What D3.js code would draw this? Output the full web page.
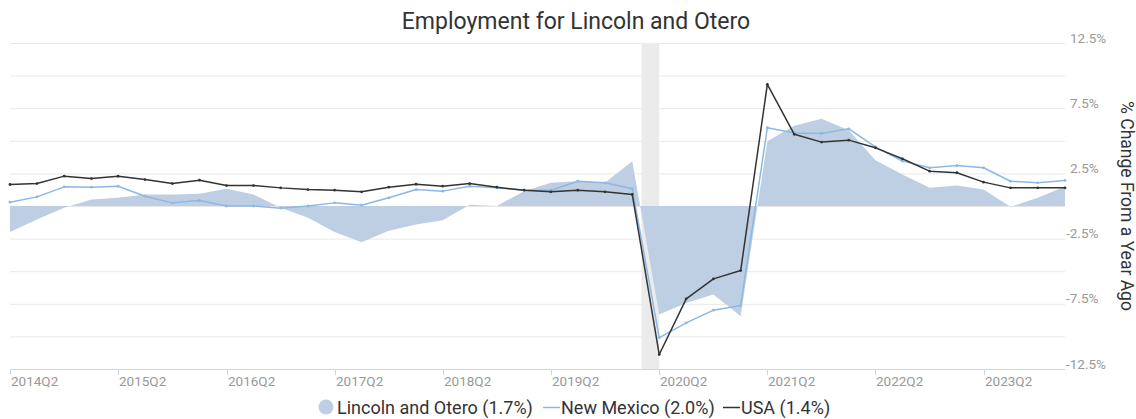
<!DOCTYPE html>
<html>
<head>
<meta charset="utf-8">
<script src="https://cdn.jsdelivr.net/npm/d3@7"></script>
<style>
  body { margin: 0; background: #fff; }
  svg { display: block; font-family: Roboto, "Noto Sans", sans-serif; }
</style>
</head>
<body>
<svg id="chart"></svg>
<script>
var WIDTH = 1136;
var HEIGHT = 419;

var quarters = [
    "2014Q2", "2014Q3", "2014Q4", "2015Q1", "2015Q2", "2015Q3", "2015Q4", "2016Q1",
    "2016Q2", "2016Q3", "2016Q4", "2017Q1", "2017Q2", "2017Q3", "2017Q4", "2018Q1",
    "2018Q2", "2018Q3", "2018Q4", "2019Q1", "2019Q2", "2019Q3", "2019Q4", "2020Q1",
    "2020Q2", "2020Q3", "2020Q4", "2021Q1", "2021Q2", "2021Q3", "2021Q4", "2022Q1",
    "2022Q2", "2022Q3", "2022Q4", "2023Q1", "2023Q2", "2023Q3", "2023Q4", "2024Q1"
];

var lincolnOtero = [
    -2.0, -1.04, -0.14, 0.5, 0.63, 0.88, 0.88, 0.93,
    1.32, 0.88, -0.14, -0.9, -2.0, -2.78, -1.9, -1.42,
    -1.09, 0.1, 0.0, 1.14, 1.78, 1.9, 1.78, 3.44,
    -8.32, -7.43, -6.79, -8.45, 4.97, 6.15, 6.69, 5.81,
    3.51, 2.42, 1.39, 1.57, 1.26, -0.06, 0.63, 1.5
];

var newMexico = [
    0.29, 0.7, 1.47, 1.44, 1.52, 0.75, 0.24, 0.42,
    0.0, 0.0, -0.17, 0.0, 0.24, 0.06, 0.63, 1.26,
    1.14, 1.52, 1.39, 1.21, 1.21, 1.9, 1.78, 1.32,
    -10.1, -8.96, -7.99, -7.63, 6.0, 5.6, 5.56, 5.92,
    4.54, 3.44, 2.93, 3.1, 2.93, 1.9, 1.78, 1.96
];

var usa = [
    1.65, 1.72, 2.29, 2.1, 2.29, 2.03, 1.72, 1.98,
    1.57, 1.57, 1.39, 1.26, 1.21, 1.09, 1.44, 1.67,
    1.52, 1.72, 1.44, 1.21, 1.09, 1.21, 1.09, 0.88,
    -11.39, -7.12, -5.59, -4.95, 9.32, 5.5, 4.9, 5.05,
    4.46, 3.62, 2.67, 2.55, 1.83, 1.39, 1.39, 1.39
];

var yTicks = [12.5, 10, 7.5, 5, 2.5, 0, -2.5, -5, -7.5, -10, -12.5];
var yLabels = [12.5, 7.5, 2.5, -2.5, -7.5, -12.5];
var xTickLabels = ["2014Q2", "2015Q2", "2016Q2", "2017Q2", "2018Q2",
                   "2019Q2", "2020Q2", "2021Q2", "2022Q2", "2023Q2"];
var recession = ["2020-02-01", "2020-04-01"];
var legendItems = [
    {name: "Lincoln and Otero (1.7%)", type: "area"},
    {name: "New Mexico (2.0%)", type: "nm"},
    {name: "USA (1.4%)", type: "usa"}
];

var AREA_COLOR = "#bfcfe3";
var NM_COLOR = "#8cb8e2";
var USA_COLOR = "#333333";

function quarterDate(q) {
    var year = +q.slice(0, 4);
    var qi = +q.slice(5) - 1;
    return new Date(year, qi * 3, 1);
}

var svg = d3.select("#chart")
    .attr("width", WIDTH)
    .attr("height", HEIGHT);

var x = d3.scaleTime()
    .domain([quarterDate(quarters[0]), quarterDate(quarters[quarters.length - 1])])
    .range([10, 1065]);

var y = d3.scaleLinear()
    .domain([-12.5, 12.5])
    .range([369, 43]);

// grid lines
svg.append("g")
    .selectAll("line")
    .data(yTicks.filter(function(d) { return d !== -12.5; }))
    .enter()
    .append("line")
    .attr("x1", 10)
    .attr("x2", 1065)
    .attr("y1", function(d) { return y(d) + 0.5; })
    .attr("y2", function(d) { return y(d) + 0.5; })
    .attr("stroke", "#e8e8e8")
    .attr("stroke-width", 1);

// recession band
svg.append("rect")
    .attr("x", x(new Date(recession[0])))
    .attr("y", y(12.5))
    .attr("width", x(new Date(recession[1])) - x(new Date(recession[0])))
    .attr("height", y(-12.5) - y(12.5))
    .attr("fill", "#ebebeb");

var points = quarters.map(function(q, i) {
    return {date: quarterDate(q), lo: lincolnOtero[i], nm: newMexico[i], usa: usa[i]};
});

var area = d3.area()
    .x(function(d) { return x(d.date); })
    .y0(y(0))
    .y1(function(d) { return y(d.lo); });

svg.append("path")
    .datum(points)
    .attr("d", area)
    .attr("fill", AREA_COLOR);

function drawLine(key, color, width) {
    var line = d3.line()
        .x(function(d) { return x(d.date); })
        .y(function(d) { return y(d[key]); });
    svg.append("path")
        .datum(points)
        .attr("d", line)
        .attr("fill", "none")
        .attr("stroke", color)
        .attr("stroke-width", width)
        .attr("stroke-linejoin", "round");
    svg.append("g")
        .selectAll("circle")
        .data(points)
        .enter()
        .append("circle")
        .attr("cx", function(d) { return x(d.date); })
        .attr("cy", function(d) { return y(d[key]); })
        .attr("r", 1.4)
        .attr("fill", color);
}

drawLine("nm", NM_COLOR, 1.5);
drawLine("usa", USA_COLOR, 1.5);

// x axis
svg.append("line")
    .attr("x1", 10)
    .attr("x2", 1065)
    .attr("y1", 369.5)
    .attr("y2", 369.5)
    .attr("stroke", "#ccd6e0");

var xTicks = svg.append("g")
    .selectAll("g")
    .data(xTickLabels)
    .enter()
    .append("g")
    .attr("transform", function(d) { return "translate(" + Math.round(x(quarterDate(d))) + ",0)"; });

xTicks.append("line")
    .attr("x1", 0.5)
    .attr("x2", 0.5)
    .attr("y1", 369)
    .attr("y2", 375)
    .attr("stroke", "#ccd6e0");

xTicks.append("text")
    .attr("x", 1)
    .attr("y", 386)
    .attr("font-size", 13.5)
    .attr("fill", "#999")
    .text(function(d) { return d; });

// y labels on the right
svg.append("g")
    .selectAll("text")
    .data(yLabels)
    .enter()
    .append("text")
    .attr("x", function(d) { return d < 0 ? 1066 : 1070; })
    .attr("y", function(d) { return y(d) - 0.5; })
    .attr("font-size", 13.5)
    .attr("fill", "#999")
    .text(function(d) { return (d < 0 ? "-" + Math.abs(d) : d) + "%"; });

svg.append("text")
    .attr("transform", "translate(1121,206) rotate(90)")
    .attr("text-anchor", "middle")
    .attr("font-size", 17.5)
    .attr("fill", "#333")
    .text("% Change From a Year Ago");

// title
svg.append("text")
    .attr("x", 576)
    .attr("y", 29)
    .attr("text-anchor", "middle")
    .attr("font-size", 23)
    .attr("fill", "#333")
    .text("Employment for Lincoln and Otero");

// legend
var legend = svg.append("g").attr("transform", "translate(0,407)");
var lx = [318, 542, 722];
legendItems.forEach(function(item, i) {
    var g = legend.append("g").attr("transform", "translate(" + lx[i] + ",0)");
    var textX;
    if (item.type === "area") {
        g.append("circle").attr("cx", 8).attr("cy", 0).attr("r", 7.5).attr("fill", AREA_COLOR);
        textX = 19;
    } else {
        g.append("line")
            .attr("x1", 1).attr("x2", 18)
            .attr("y1", 0.5).attr("y2", 0.5)
            .attr("stroke", item.type === "nm" ? NM_COLOR : USA_COLOR)
            .attr("stroke-width", 1.5);
        textX = 19;
    }
    g.append("text")
        .attr("x", textX)
        .attr("y", 6.5)
        .attr("font-size", 18)
        .attr("fill", "#333")
        .text(item.name);
});
</script>
</body>
</html>
